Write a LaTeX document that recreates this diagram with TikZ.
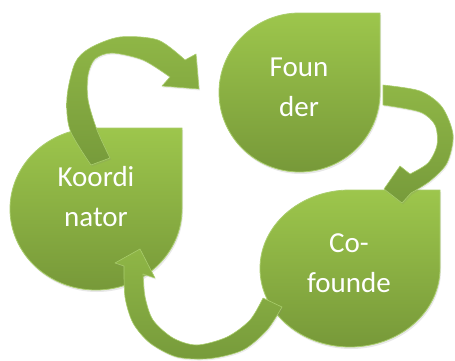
\documentclass[tikz,border=0pt]{standalone}
\usepackage{fontspec}
\setmainfont{Carlito}
\usetikzlibrary{shadows}
\definecolor{dropTop}{HTML}{9DC64C}
\definecolor{dropBot}{HTML}{779939}
\definecolor{dropRim}{HTML}{A9CD6C}
\definecolor{arrTop}{HTML}{8FB646}
\definecolor{arrBot}{HTML}{779B3B}
\tikzset{
  drop/.style={top color=dropTop, bottom color=dropBot, draw=dropRim, line width=0.8pt,
    drop shadow={opacity=0.18, shadow xshift=1pt, shadow yshift=-2pt}},
  band/.style={top color=arrTop, bottom color=arrBot, draw=dropRim, line width=0.6pt,
    line join=round, drop shadow={opacity=0.15, shadow xshift=1pt, shadow yshift=-1.5pt}},
  droptext/.style={text=white, align=center, inner sep=0pt,
    font=\fontsize{29pt}{40pt}\selectfont}
}

\begin{document}
\begin{tikzpicture}[x=1pt,y=1pt]
\useasboundingbox (0,0) rectangle (455,360);
% The three drops, square corner at the top right
\path[drop] (299.5,347) -- (380,347) -- (380,267.5)
  arc[start angle=0, end angle=-270, x radius=80.5, y radius=79.5] -- cycle; % founder
\path[drop] (96,232) -- (182,232) -- (182,151)
  arc[start angle=0, end angle=-270, x radius=86, y radius=81] -- cycle; % koordinator
\path[drop] (350,170) -- (440,170) -- (440,91.5)
  arc[start angle=0, end angle=-270, x radius=90, y radius=78.5] -- cycle; % co-founder
%% Texts of the drops
\node[droptext] (founder) at (299,273) {Foun\\der};
\node[droptext] (koord) at (96,163.5) {Koordi\\nator};
\node[droptext] (cofounder) at (349,97) {Co-\\founde};
% Curved arrows
\path[band] plot[smooth] coordinates {(91,195) (70,230) (67,263) (75,297) (90,312) (120,323) (158,320) (185,300)}
  -- (196,306) -- (199,271) -- (162,274) -- (170,283)
  -- plot[smooth] coordinates {(170,283) (143,300) (112,307) (95,301) (88,285) (88,260) (97,230) (110,202)}
  -- cycle; % koordinator to founder
\path[band] plot[smooth] coordinates {(383,275) (420,269) (442,253) (453,225) (447,197) (430,179) (411,167)}
  -- (402,157) -- (384,171) -- (400,194) -- (410,186)
  -- plot[smooth] coordinates {(410,186) (428,197) (437,215) (435,235) (420,248) (383,255)}
  -- cycle; % founder to co-founder
\path[band] plot[smooth] coordinates {(282,53) (267,30) (243,10) (210,1.5) (177,3) (150,17) (133,37) (125,63) (124,94)}
  -- (115,97) -- (140,111) -- (155,82) -- (143,86)
  -- plot[smooth] coordinates {(143,86) (145,63) (153,40) (173,22) (197,15) (227,23) (250,40) (263,62)}
  -- cycle; % co-founder to koordinator
\end{tikzpicture}
\end{document}
